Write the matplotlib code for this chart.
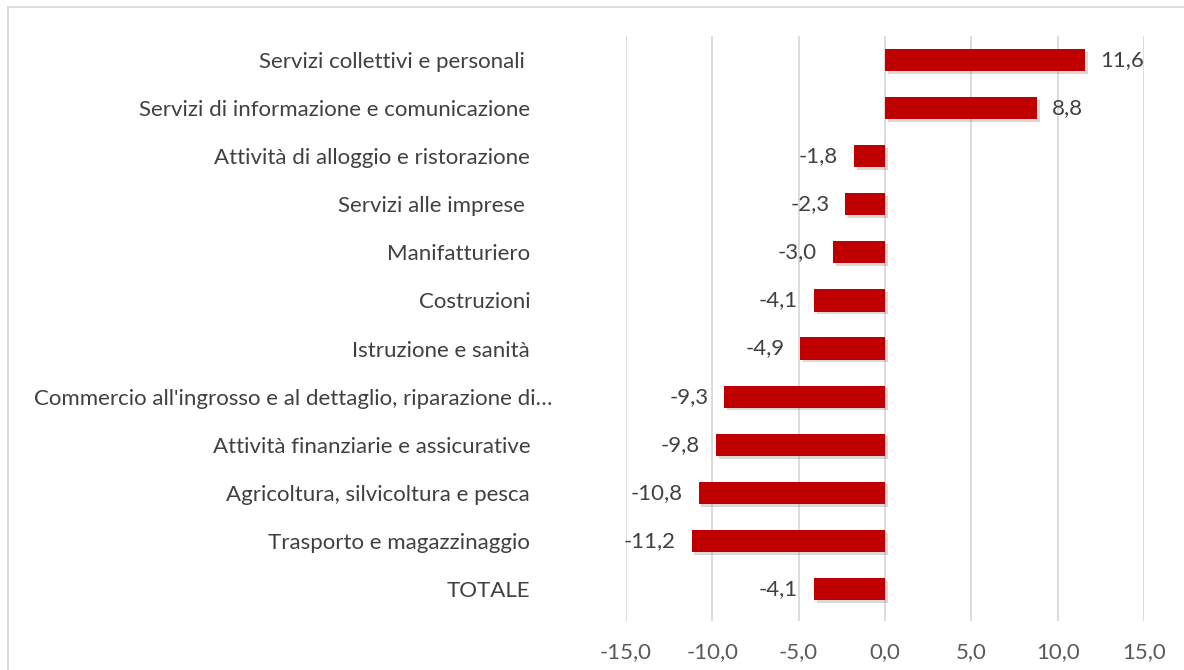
import matplotlib
matplotlib.use("Agg")
import matplotlib.pyplot as plt
import matplotlib.patheffects as pe
from matplotlib.transforms import ScaledTranslation
from matplotlib.lines import Line2D

categories = [
    "Servizi collettivi e personali ",
    "Servizi di informazione e comunicazione",
    "Attività di alloggio e ristorazione",
    "Servizi alle imprese ",
    "Manifatturiero",
    "Costruzioni",
    "Istruzione e sanità",
    "Commercio all'ingrosso e al dettaglio, riparazione di…",
    "Attività finanziarie e assicurative",
    "Agricoltura, silvicoltura e pesca",
    "Trasporto e magazzinaggio",
    "TOTALE",
]
values = [11.6, 8.8, -1.8, -2.3, -3.0, -4.1, -4.9, -9.3, -9.8, -10.8, -11.2, -4.1]
xticks = [-15, -10, -5, 0, 5, 10, 15]

BAR = "#C00000"
TEXT = "#404040"
GRID = "#D9D9D9"
FONT = "Lato"
FS = 16

W, H = 1184, 670
fig = plt.figure(figsize=(W / 100, H / 100), dpi=100)
ax = fig.add_axes([626 / W, 1 - 621 / H, (1144 - 626) / W, (621 - 36) / H])

ypos = list(range(len(categories)))
bars = ax.barh(ypos, values, height=0.46, color=BAR, zorder=3)
for b in bars:
    b.set_path_effects([
        pe.SimplePatchShadow(offset=(2, -2), shadow_rgbFace="#808080", alpha=0.3),
        pe.Normal(),
    ])

ax.set_xlim(-15, 15)
ax.set_ylim(11.5 + 8 / 48, -0.5)
ax.set_xticks(xticks)
ax.set_xticklabels([f"{t:.1f}".replace(".", ",") for t in xticks],
                   fontsize=FS, color="#595959", family=FONT)
ax.set_yticks(ypos)
ax.set_yticklabels(categories, fontsize=FS, color=TEXT, family=FONT)
ax.tick_params(axis="both", length=0)
ax.tick_params(axis="y", pad=69)
ax.tick_params(axis="x", pad=15)

# the long truncated label sits further to the right
for lbl in ax.get_yticklabels():
    if lbl.get_text().startswith("Commercio"):
        lbl.set_transform(lbl.get_transform() + ScaledTranslation(0.22, 0, fig.dpi_scale_trans))

ax.grid(axis="x", color=GRID, linewidth=1.3, zorder=0)
for s in ax.spines.values():
    s.set_visible(False)

for y, v in zip(ypos, values):
    txt = f"{v:.1f}".replace(".", ",")
    if v >= 0:
        ax.annotate(txt, (v, y), xytext=(11, 0), textcoords="offset points",
                    ha="left", va="center", fontsize=FS, color=TEXT, family=FONT)
    else:
        ax.annotate(txt, (v, y), xytext=(-11.5, 0), textcoords="offset points",
                    ha="right", va="center", fontsize=FS, color=TEXT, family=FONT)

# chart frame (top and left edges)
fig.add_artist(Line2D([8 / W, 1], [1 - 7 / H, 1 - 7 / H], color=GRID, linewidth=1.3,
                      transform=fig.transFigure))
fig.add_artist(Line2D([8 / W, 8 / W], [0, 1 - 7 / H], color=GRID, linewidth=1.3,
                      transform=fig.transFigure))

fig.savefig("out.png", dpi=100, facecolor="white")
